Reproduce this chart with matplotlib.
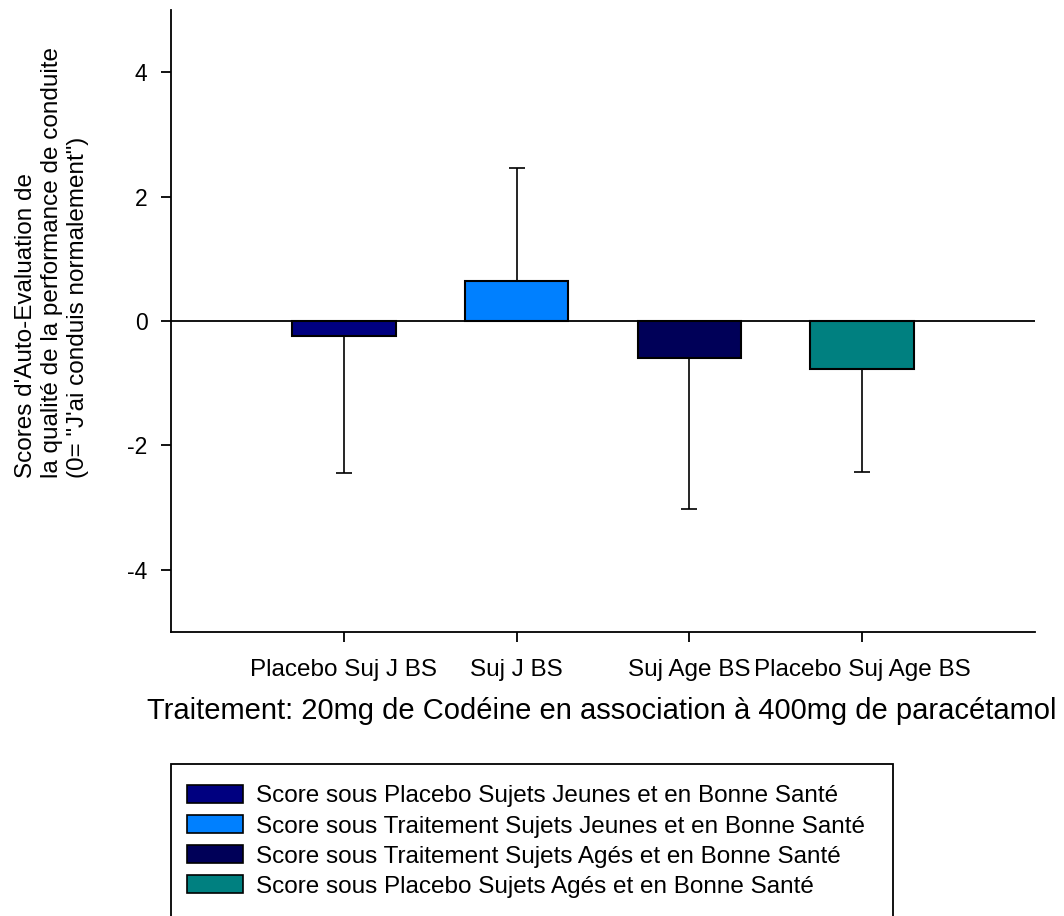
import matplotlib
matplotlib.use("Agg")
import matplotlib.pyplot as plt
from matplotlib.patches import Patch, Rectangle

plt.rcParams['font.family'] = ['Liberation Sans', 'DejaVu Sans']

categories = ["Placebo Suj J BS", "Suj J BS", "Suj Age BS", "Placebo Suj Age BS"]
means = [-0.24, 0.65, -0.60, -0.77]
err_tips = [-2.45, 2.46, -3.02, -2.42]
colors = ["#000080", "#0080FF", "#000058", "#008080"]
legend_labels = [
    "Score sous Placebo Sujets Jeunes et en Bonne Santé",
    "Score sous Traitement Sujets Jeunes et en Bonne Santé",
    "Score sous Traitement Sujets Agés et en Bonne Santé",
    "Score sous Placebo Sujets Agés et en Bonne Santé",
]
yticks = [-4, -2, 0, 2, 4]

W, H = 1064, 916
fig = plt.figure(figsize=(W / 100, H / 100), dpi=100)
ax = fig.add_axes([171 / W, 1 - 632 / H, (1035 - 171) / W, (632 - 10) / H])

x = list(range(1, len(categories) + 1))
lower = [m - t if t < m else 0 for m, t in zip(means, err_tips)]
upper = [t - m if t > m else 0 for m, t in zip(means, err_tips)]

ax.bar(x, means, width=0.6, color=colors, edgecolor="black", linewidth=1.5, zorder=3)
ax.errorbar(x, means, yerr=[lower, upper], fmt="none", ecolor="black",
            elinewidth=1.2, capsize=6, capthick=1.2, zorder=2)
ax.axhline(0, color="black", linewidth=1.3, zorder=4)

ax.set_xlim(0, 5)
ax.set_ylim(-5, 5)
ax.set_xticks(x)
ax.set_xticklabels(categories, fontsize=17.5)
ax.set_yticks(yticks)
ax.set_yticklabels([str(v) for v in yticks], fontsize=16.5)
ax.tick_params(direction="out", length=7, width=1.3)
ax.tick_params(axis="x", pad=12.5)
ax.tick_params(axis="y", pad=10)
for s in ["top", "right"]:
    ax.spines[s].set_visible(False)
for s in ["left", "bottom"]:
    ax.spines[s].set_linewidth(1.3)

fig.text(602 / W, 1 - 711 / H,
         "Traitement: 20mg de Codéine en association à 400mg de paracétamol",
         ha="center", va="center", fontsize=21)

fig.text(52 / W, 1 - 262 / H,
         "Scores d'Auto-Evaluation de\nla qualité de la performance de conduite\n(0= \"J'ai conduis normalement\")",
         rotation=90, ha="center", va="center", multialignment="left", fontsize=17.5,
         linespacing=1.25)

# legend box
fig.patches.append(Rectangle((171 / W, -0.02), (893 - 171) / W, 1 - 764 / H + 0.02,
                             transform=fig.transFigure, fill=False,
                             edgecolor="black", linewidth=1.3))
handles = [Patch(facecolor=c, edgecolor="black", linewidth=1.2) for c in colors]
fig.legend(handles, legend_labels, loc="upper left",
           bbox_to_anchor=(187 / W, 1 - 785 / H), frameon=False, fontsize=17.5,
           handlelength=2.3, handleheight=0.75, handletextpad=0.55,
           labelspacing=0.32, borderaxespad=0, borderpad=0)

fig.savefig("out.png", dpi=100)
